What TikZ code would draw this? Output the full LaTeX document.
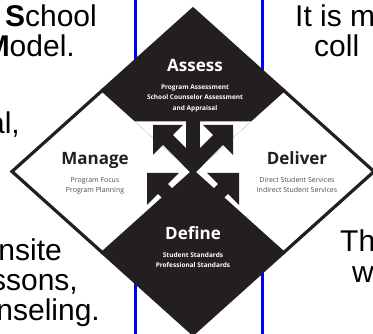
\documentclass[tikz,border=0pt]{standalone}
\usepackage{fontspec}
\setmainfont{Liberation Sans}
\newfontfamily\asca{Open Sans}
\usetikzlibrary{positioning,calc}
\definecolor{ink}{HTML}{231F20}
\definecolor{subgray}{HTML}{4D4D4D}
\tikzset{dark/.style={fill=ink,draw=ink,line width=3.2pt,line join=miter},
	 light/.style={fill=white,draw=ink,line width=3.2pt,line join=miter},
	 slide/.style={font=\fontsize{30}{30}\selectfont,inner sep=0pt},
	 head/.style={font=\asca\bfseries\fontsize{17}{17}\selectfont,inner sep=0pt,text depth=0pt},
	 sub/.style={font=\asca\bfseries\fontsize{6.5}{7}\selectfont,inner sep=0pt,text height=5pt,text depth=1.5pt},
	 subl/.style={sub,subgray,font=\asca\fontsize{7}{7}\selectfont},
	 pics/flow/.style 2 args={code={\fill[ink] (0,0) -- (#2,-#2) -- (#2,-7) -- (#1,-7) -- (#1,7) -- (#2,7) -- (#2,#2) -- cycle;}},
	 node distance = 3.5pt
	 }

\begin{document}
\begin{tikzpicture}[x=1pt,y=-1pt]
	\useasboundingbox (0,0) rectangle (373,334);
	\clip (0,0) rectangle (373,334);
	% slide text and rules
	\draw[blue,line width=3pt] (135,0) -- (135,334);
	\draw[blue,line width=3pt] (262,0) -- (262,334);
	\node[slide,anchor=base east] (l1) at (97,27) {\textbf{S}chool};
	\node[slide,anchor=base east] (l2) at (75,57) {\textbf{M}odel.};
	\node[slide,anchor=base east] (l3) at (20,134) {al,};
	\node[slide,anchor=base east] (l4) at (62,261) {nsite};
	\node[slide,anchor=base east] (l5) at (78,291) {ssons,};
	\node[slide,anchor=base east] (l6) at (100,321) {nseling.};
	\node[slide,anchor=base west] (r1) at (295,27) {It is m};
	\node[slide,anchor=base west] (r2) at (314,57) {coll};
	\node[slide,anchor=base west] (r3) at (340,252) {Th};
	\node[slide,anchor=base west] (r4) at (352,283) {w};
	% the diamond
	\coordinate (T) at (193,9);
	\coordinate (B) at (193,334);
	\coordinate (L) at (12,171.5);
	\coordinate (R) at (374,171.5);
	\coordinate (C) at (193,171.5);
	\coordinate (TL) at ($(T)!.5!(L)$);
	\coordinate (TR) at ($(T)!.5!(R)$);
	\coordinate (BL) at ($(B)!.5!(L)$);
	\coordinate (BR) at ($(B)!.5!(R)$);
	\filldraw[dark] (T) -- (TL) -- (C) -- (TR) -- cycle;
	\filldraw[dark] (C) -- (BL) -- (B) -- (BR) -- cycle;
	\filldraw[light] (TL) -- (L) -- (BL) -- (C) -- cycle;
	\filldraw[light] (TR) -- (R) -- (BR) -- (C) -- cycle;
	% centre: cut and arrows
	\filldraw[white,line width=3.2pt,line join=miter] (139,123) -- (247,123) -- (C) -- cycle;
	\fill[ink] (186,118) rectangle (200,160);
	\pic[rotate=-45] at (153,125) {flow={63.6}{21.2}};
	\pic[rotate=-135] at (233,125) {flow={63.6}{21.2}};
	\pic[rotate=-45] at (147,173) {flow={55}{22.6}};
	\pic[rotate=-135] at (239,173) {flow={55}{22.6}};
	% labels
	\node[head,white,anchor=base] (as) at (195,72) {Assess};
	\node[sub,white,below=12pt of as] (as1) {Program Assessment};
	\node[sub,white,below=of as1] (as2) {School Counselor Assessment};
	\node[sub,white,below=of as2] (as3) {and Appraisal};
	\node[head,ink,anchor=base] (ma) at (95,165) {Manage};
	\node[subl,below=12pt of ma] (ma1) {Program Focus};
	\node[subl,below=of ma1] (ma2) {Program Planning};
	\node[head,ink,anchor=base] (dl) at (297,165) {Deliver};
	\node[subl,below=12pt of dl] (dl1) {Direct Student Services};
	\node[subl,below=of dl1] (dl2) {Indirect Student Services};
	\node[head,white,anchor=base] (df) at (193,240) {Define};
	\node[sub,white,below=12pt of df] (df1) {Student Standards};
	\node[sub,white,below=of df1] (df2) {Professional Standards};
\end{tikzpicture}
\end{document}
